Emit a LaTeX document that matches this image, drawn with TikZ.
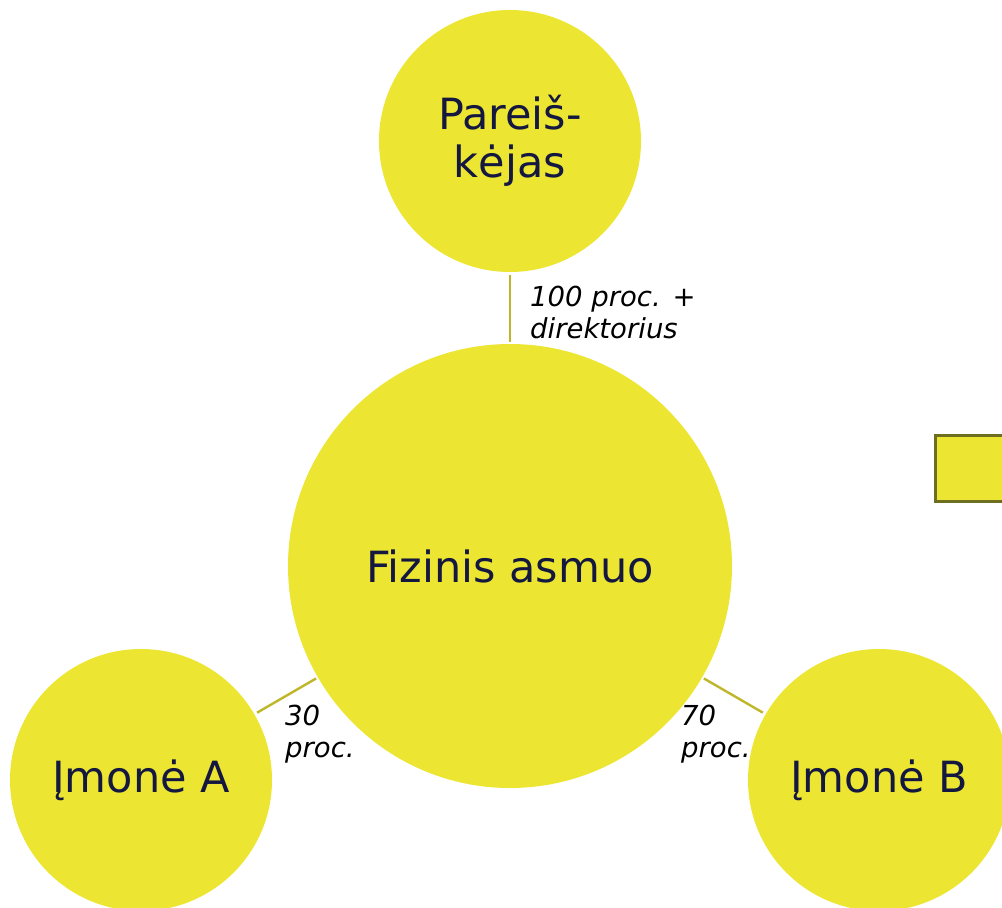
\documentclass[tikz,border=0pt]{standalone}
\usepackage{fontspec}
\setmainfont{DejaVu Sans}
\definecolor{circfill}{RGB}{236,229,50}
\definecolor{linkcol}{RGB}{192,182,42}
\definecolor{txtcol}{RGB}{20,24,64}
\definecolor{rectborder}{RGB}{110,110,32}
\begin{document}
\begin{tikzpicture}[x=1pt,y=-1pt,
  bubble/.style={circle,fill=circfill,inner sep=0pt,text=txtcol,align=center,
    font=\fontsize{43}{48}\selectfont},
  link/.style={draw=linkcol,line width=2.4pt,shorten <=3pt,shorten >=2pt},
  lbl/.style={anchor=north west,inner sep=0pt,align=left,text=black,
    font=\fontsize{27.5}{32}\selectfont\itshape}]
\useasboundingbox (0,0) rectangle (1002,908);
\clip (0,0) rectangle (1002,908);
\node[bubble,minimum size=262pt] (top) at (510,141) {Pareiš-\\kėjas};
\node[bubble,minimum size=444pt] (mid) at (510,566) {Fizinis asmuo};
\node[bubble,minimum size=262pt] (left) at (141,780) {Įmonė A};
\node[bubble,minimum size=262pt] (right) at (879,780) {Įmonė B};
\node[draw=rectborder,line width=2.5pt,fill=circfill,minimum width=100pt,minimum height=66pt,inner sep=0pt,anchor=north west] (box) at (934,434) {};
\draw[link] (top) -- (mid);
\draw[link] (left) -- (mid);
\draw[link] (right) -- (mid);
\node[lbl] (l1) at (530,286) {100 proc. +\\direktorius};
\node[lbl] (l2) at (285,705) {30\\proc.};
\node[lbl] (l3) at (681,705) {70\\proc.};
\end{tikzpicture}
\end{document}
